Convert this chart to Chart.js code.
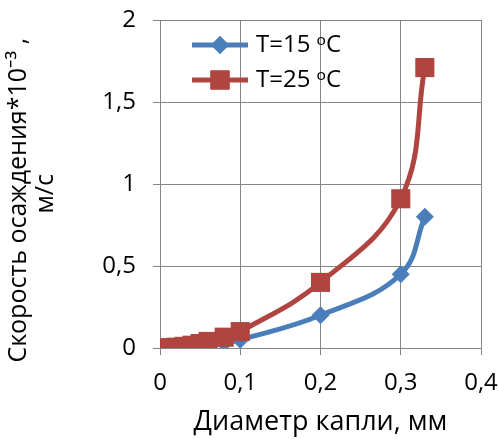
<!DOCTYPE html>
<html>
<head>
<meta charset="utf-8">
<script src="https://cdn.jsdelivr.net/npm/chart.js@4"></script>
<style>
  html, body { margin: 0; padding: 0; background: #fff; }
  #wrap { width: 499px; height: 439px; }
</style>
</head>
<body>
<div id="wrap"><canvas id="grafico" width="499" height="439"></canvas></div>
<script>
// диаметр капли, мм
const diametr = [0, 0.01, 0.02, 0.03, 0.04, 0.05, 0.06, 0.08, 0.1, 0.2, 0.3, 0.33];
// скорость осаждения *10^-3, м/с
const skorost15 = [0, 0.001, 0.003, 0.005, 0.008, 0.013, 0.019, 0.03, 0.05, 0.2, 0.45, 0.8];
const skorost25 = [0, 0.002, 0.005, 0.01, 0.017, 0.027, 0.04, 0.066, 0.1, 0.4, 0.91, 1.71];

const legendas = ['T=15 ᵒC', 'T=25 ᵒC'];
const tituloX = 'Диаметр капли, мм';
// espaços no fim para deslocar as linhas como no original
const tituloY = ['Скорость осаждения*10⁻³ ,     ', 'м/с   '];

const azul = '#4A7EBB';
const vermelho = '#B04441';
const fonte = '"Open Sans", "Noto Sans", sans-serif';

function pontos(ys) {
    return diametr.map((x, i) => ({ x: x, y: ys[i] }));
}

function virgula(v) {
    return String(Number(v.toFixed(2))).replace('.', ',');
}

// legenda desenhada dentro da área do gráfico, como no Excel
const legendaInterna = {
    id: 'legendaInterna',
    afterDatasetsDraw(chart) {
        const ctx = chart.ctx;
        const linhas = [
            { texto: legendas[0], cor: azul, estilo: 'rectRot', raio: 9, y: 45 },
            { texto: legendas[1], cor: vermelho, estilo: 'rect', raio: 13.5, y: 80 }
        ];
        ctx.save();
        linhas.forEach(l => {
            ctx.strokeStyle = l.cor;
            ctx.lineWidth = 5;
            ctx.beginPath();
            ctx.moveTo(192, l.y);
            ctx.lineTo(248, l.y);
            ctx.stroke();
            ctx.fillStyle = l.cor;
            Chart.helpers.drawPoint(ctx, { pointStyle: l.estilo, radius: l.raio, borderWidth: 0 }, 220, l.y);
            ctx.fill();
            ctx.fillStyle = '#000';
            ctx.font = '24px ' + fonte;
            ctx.textBaseline = 'middle';
            ctx.fillText(l.texto, 256, l.y);
        });
        ctx.restore();
    }
};

const grafico = new Chart(document.getElementById('grafico'), {
    type: 'line',
    data: {
        datasets: [{
            label: legendas[0],
            data: pontos(skorost15),
            borderColor: azul,
            backgroundColor: azul,
            borderWidth: 5,
            pointStyle: 'rectRot',
            pointRadius: 9,
            pointBorderWidth: 0,
            tension: 0.4,
            order: 1
        }, {
            label: legendas[1],
            data: pontos(skorost25),
            borderColor: vermelho,
            backgroundColor: vermelho,
            borderWidth: 5,
            pointStyle: 'rect',
            pointRadius: 13.5,
            pointBorderWidth: 0,
            tension: 0.4,
            order: 0
        }]
    },
    options: {
        responsive: false,
        animation: false,
        layout: { padding: { top: 20, right: 18, left: 0, bottom: 0 } },
        plugins: {
            legend: { display: false },
            tooltip: { enabled: false }
        },
        scales: {
            x: {
                type: 'linear',
                min: 0,
                max: 0.4,
                afterFit: s => {
                    s.height = 91;
                    s.paddingLeft = 0;
                    s.paddingRight = 0;
                },
                ticks: {
                    stepSize: 0.1,
                    color: '#000',
                    padding: 14,
                    font: { family: fonte, size: 24 },
                    callback: v => virgula(v)
                },
                grid: { color: '#868686', lineWidth: 1, tickLength: 7 },
                border: { color: '#868686' },
                title: {
                    display: true,
                    text: tituloX,
                    color: '#000',
                    font: { family: fonte, size: 27 },
                    padding: { top: 0, bottom: 0 }
                }
            },
            y: {
                min: 0,
                max: 2,
                afterFit: s => {
                    s.width = 160;
                    s.paddingTop = 0;
                    s.paddingBottom = 0;
                },
                ticks: {
                    stepSize: 0.5,
                    color: '#000',
                    padding: 17,
                    font: { family: fonte, size: 24 },
                    callback: v => virgula(v)
                },
                grid: { color: '#868686', lineWidth: 1, tickLength: 7 },
                border: { color: '#868686' },
                title: {
                    display: true,
                    text: tituloY,
                    color: '#000',
                    font: { family: fonte, size: 25, lineHeight: 1.1 },
                    padding: { top: 5, bottom: 0 }
                }
            }
        }
    },
    plugins: [legendaInterna]
});
</script>
</body>
</html>
